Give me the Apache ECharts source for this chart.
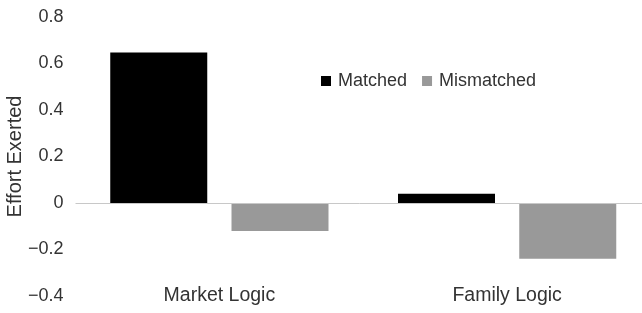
<!DOCTYPE html>
<html>
<head>
<meta charset="utf-8">
<script src="https://cdn.jsdelivr.net/npm/echarts@6/dist/echarts.min.js"></script>
<style>
  html, body { margin: 0; padding: 0; background: #fff; }
  #chart { width: 642px; height: 313px; }
</style>
</head>
<body>
<div id="chart"></div>
<script>
// data
var categories = ['Market Logic', 'Family Logic'];
var seriesNames = ['Matched', 'Mismatched'];
var matched = [0.647, 0.04];
var mismatched = [-0.12, -0.24];
var yTicks = { min: -0.4, max: 0.8, step: 0.2 };

var textColor = '#333';
var font = 'Liberation Sans, Arial, sans-serif';

var myChart = echarts.init(document.getElementById('chart'));

var option = {
    backgroundColor: '#fff',
    animation: false,
    textStyle: { fontFamily: font },
    grid: {
        left: 75.5,
        right: -9,
        top: 17,
        bottom: 17,
        containLabel: false,
        outerBoundsMode: 'none'
    },
    legend: {
        data: seriesNames,
        left: 316,
        top: 67,
        itemWidth: 10,
        itemHeight: 10,
        itemGap: 15,
        icon: 'rect',
        textStyle: { color: textColor, fontSize: 18, fontFamily: font, padding: [0, 0, 0, 2] }
    },
    xAxis: {
        type: 'category',
        data: categories,
        axisLine: { show: false },
        axisTick: { show: false },
        splitLine: { show: false },
        axisLabel: {
            color: textColor,
            fontSize: 19.5,
            fontFamily: font,
            margin: 0,
            verticalAlign: 'middle'
        }
    },
    yAxis: {
        type: 'value',
        min: yTicks.min,
        max: yTicks.max,
        interval: yTicks.step,
        name: 'Effort Exerted',
        nameLocation: 'middle',
        nameGap: 50,
        nameMoveOverlap: false,
        nameTextStyle: { color: textColor, fontSize: 20, fontFamily: font },
        axisLine: { show: false },
        axisTick: { show: false },
        splitLine: { show: false },
        axisLabel: {
            color: textColor,
            fontSize: 18,
            fontFamily: font,
            margin: 12,
            formatter: function (v) {
                var s = Math.abs(v) < 1e-9 ? '0' : (Math.round(v * 10) / 10).toString();
                return s.replace('-', '\u2212');
            }
        }
    },
    series: [
        {
            name: seriesNames[0],
            type: 'bar',
            data: matched,
            barWidth: 97,
            barGap: '25%',
            itemStyle: { color: '#000' },
            markLine: {
                silent: true,
                symbol: 'none',
                label: { show: false },
                lineStyle: { color: '#c8c8c8', width: 1, type: 'solid' },
                data: [{ yAxis: 0 }]
            }
        },
        {
            name: seriesNames[1],
            type: 'bar',
            data: mismatched,
            barWidth: 97,
            barGap: '25%',
            itemStyle: { color: '#999' }
        }
    ]
};

myChart.setOption(option);
window.addEventListener('resize', function () { myChart.resize(); });
</script>
</body>
</html>
